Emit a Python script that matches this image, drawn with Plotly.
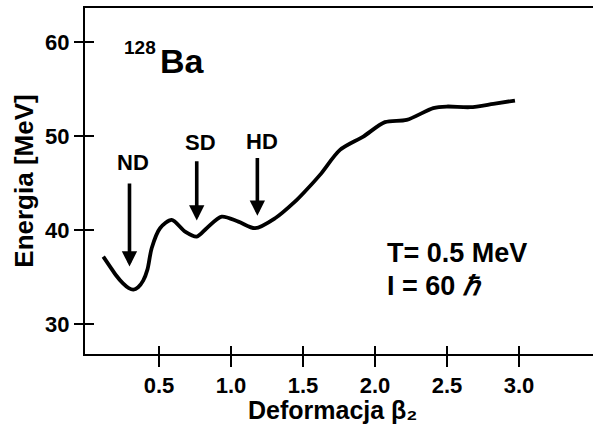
import plotly.graph_objects as go

# Data
beta2 = [0.113, 0.160, 0.200, 0.250, 0.290, 0.322, 0.355, 0.390, 0.420, 0.449,
         0.507, 0.588, 0.681, 0.762, 0.831, 0.935, 1.051, 1.167, 1.306, 1.444,
         1.502, 1.618, 1.757, 1.919, 2.069, 2.220, 2.405, 2.498, 2.660, 2.822, 2.972]
energy = [37.16, 36.10, 35.20, 34.30, 33.80, 33.65, 33.90, 34.60, 35.80, 38.05,
          40.18, 41.06, 39.82, 39.29, 40.18, 41.41, 40.88, 40.18, 41.24, 43.01,
          43.90, 45.85, 48.51, 49.93, 51.46, 51.70, 52.95, 53.12, 53.05, 53.40, 53.76]

x_tickvals = [0.5, 1.0, 1.5, 2.0, 2.5, 3.0]
x_ticktext = ["0.5", "1.0", "1.5", "2.0", "2.5", "3.0"]
y_tickvals = [30, 40, 50, 60]
y_ticktext = ["30", "40", "50", "60"]

# Arrow markers: label, x, tip energy, tail energy, label position
arrow_labels = ["ND", "SD", "HD"]
arrow_x = [0.295, 0.762, 1.183]
arrow_tip = [36.1, 41.0, 41.5]
arrow_tail = [45.1, 47.45, 47.8]
label_x = [0.319, 0.785, 1.215]
label_y = [47.2, 49.25, 49.45]

XR = [-0.014, 3.514]
YR = [26.8, 63.6]
FONT = "Liberation Sans, Arial, sans-serif"

fig = go.Figure()
fig.add_trace(go.Scatter(x=beta2, y=energy, mode="lines",
                         line=dict(color="black", width=3.8, shape="spline", smoothing=0.8),
                         showlegend=False, hoverinfo="skip"))
# dummy trace for overlay axes (inside ticks)
fig.add_trace(go.Scatter(x=[None], y=[None], xaxis="x2", yaxis="y2", showlegend=False))

tickfont = dict(family=FONT, size=22, color="black", weight="bold")

fig.update_layout(
    width=593, height=425,
    margin=dict(l=85, r=0, t=8, b=71),
    paper_bgcolor="white", plot_bgcolor="white",
    showlegend=False,
    xaxis=dict(range=XR, tickvals=x_tickvals, ticktext=x_ticktext,
               showgrid=False, zeroline=False, showline=True, linecolor="black",
               linewidth=2, mirror=True, ticks="outside", ticklen=11, tickwidth=2,
               tickcolor="black", tickfont=tickfont),
    yaxis=dict(range=YR, tickvals=y_tickvals, ticktext=y_ticktext,
               showgrid=False, zeroline=False, showline=True, linecolor="black",
               linewidth=2, mirror=False, ticks="outside", ticklen=9, tickwidth=2,
               tickcolor="black", tickfont=tickfont,
               title=dict(text="Energia [MeV]",
                          font=dict(family=FONT, size=26, color="black", weight="bold"),
                          standoff=4)),
    xaxis2=dict(range=XR, tickvals=x_tickvals, overlaying="x", showticklabels=False,
                showgrid=False, zeroline=False, showline=False, ticks="inside",
                ticklen=8, tickwidth=2, tickcolor="black", side="bottom"),
    yaxis2=dict(range=YR, tickvals=y_tickvals, overlaying="y", showticklabels=False,
                showgrid=False, zeroline=False, showline=False, ticks="inside",
                ticklen=9, tickwidth=2, tickcolor="black", side="left"),
)

# x-axis title as annotation (placed just below the tick labels)
fig.add_annotation(x=0.487, y=-0.116, xref="paper", yref="paper",
                   text="Deformacja β₂", showarrow=False,
                   xanchor="center", yanchor="top",
                   font=dict(family=FONT, size=25, color="black", weight="bold"))

for lab, ax_, tip, tail, lx, ly in zip(arrow_labels, arrow_x, arrow_tip, arrow_tail, label_x, label_y):
    fig.add_annotation(x=ax_, y=tip, ax=ax_, ay=tail, axref="x", ayref="y",
                       xref="x", yref="y", text="", showarrow=True,
                       arrowhead=2, arrowsize=0.85, arrowwidth=3.6, arrowcolor="black")
    fig.add_annotation(x=lx, y=ly, xref="x", yref="y", text=lab, showarrow=False,
                       font=dict(family=FONT, size=22, color="black", weight="bold"))

fig.add_annotation(x=0.49, y=57.95, xref="x", yref="y", text="Ba", showarrow=False,
                   xanchor="left", yanchor="middle",
                   font=dict(family=FONT, size=34, color="black", weight="bold"))
fig.add_annotation(x=0.49, y=59.4, xref="x", yref="y", text="128", showarrow=False,
                   xanchor="right", yanchor="middle",
                   font=dict(family=FONT, size=19, color="black", weight="bold"))
fig.add_annotation(x=2.07, y=37.55, xref="x", yref="y", text="T= 0.5 MeV", showarrow=False,
                   xanchor="left", yanchor="middle",
                   font=dict(family=FONT, size=27, color="black", weight="bold"))
fig.add_annotation(x=2.07, y=34.0, xref="x", yref="y", text="I = 60 <i>ℏ</i>", showarrow=False,
                   xanchor="left", yanchor="middle",
                   font=dict(family=FONT, size=27, color="black", weight="bold"))

fig.write_html("out.html")
